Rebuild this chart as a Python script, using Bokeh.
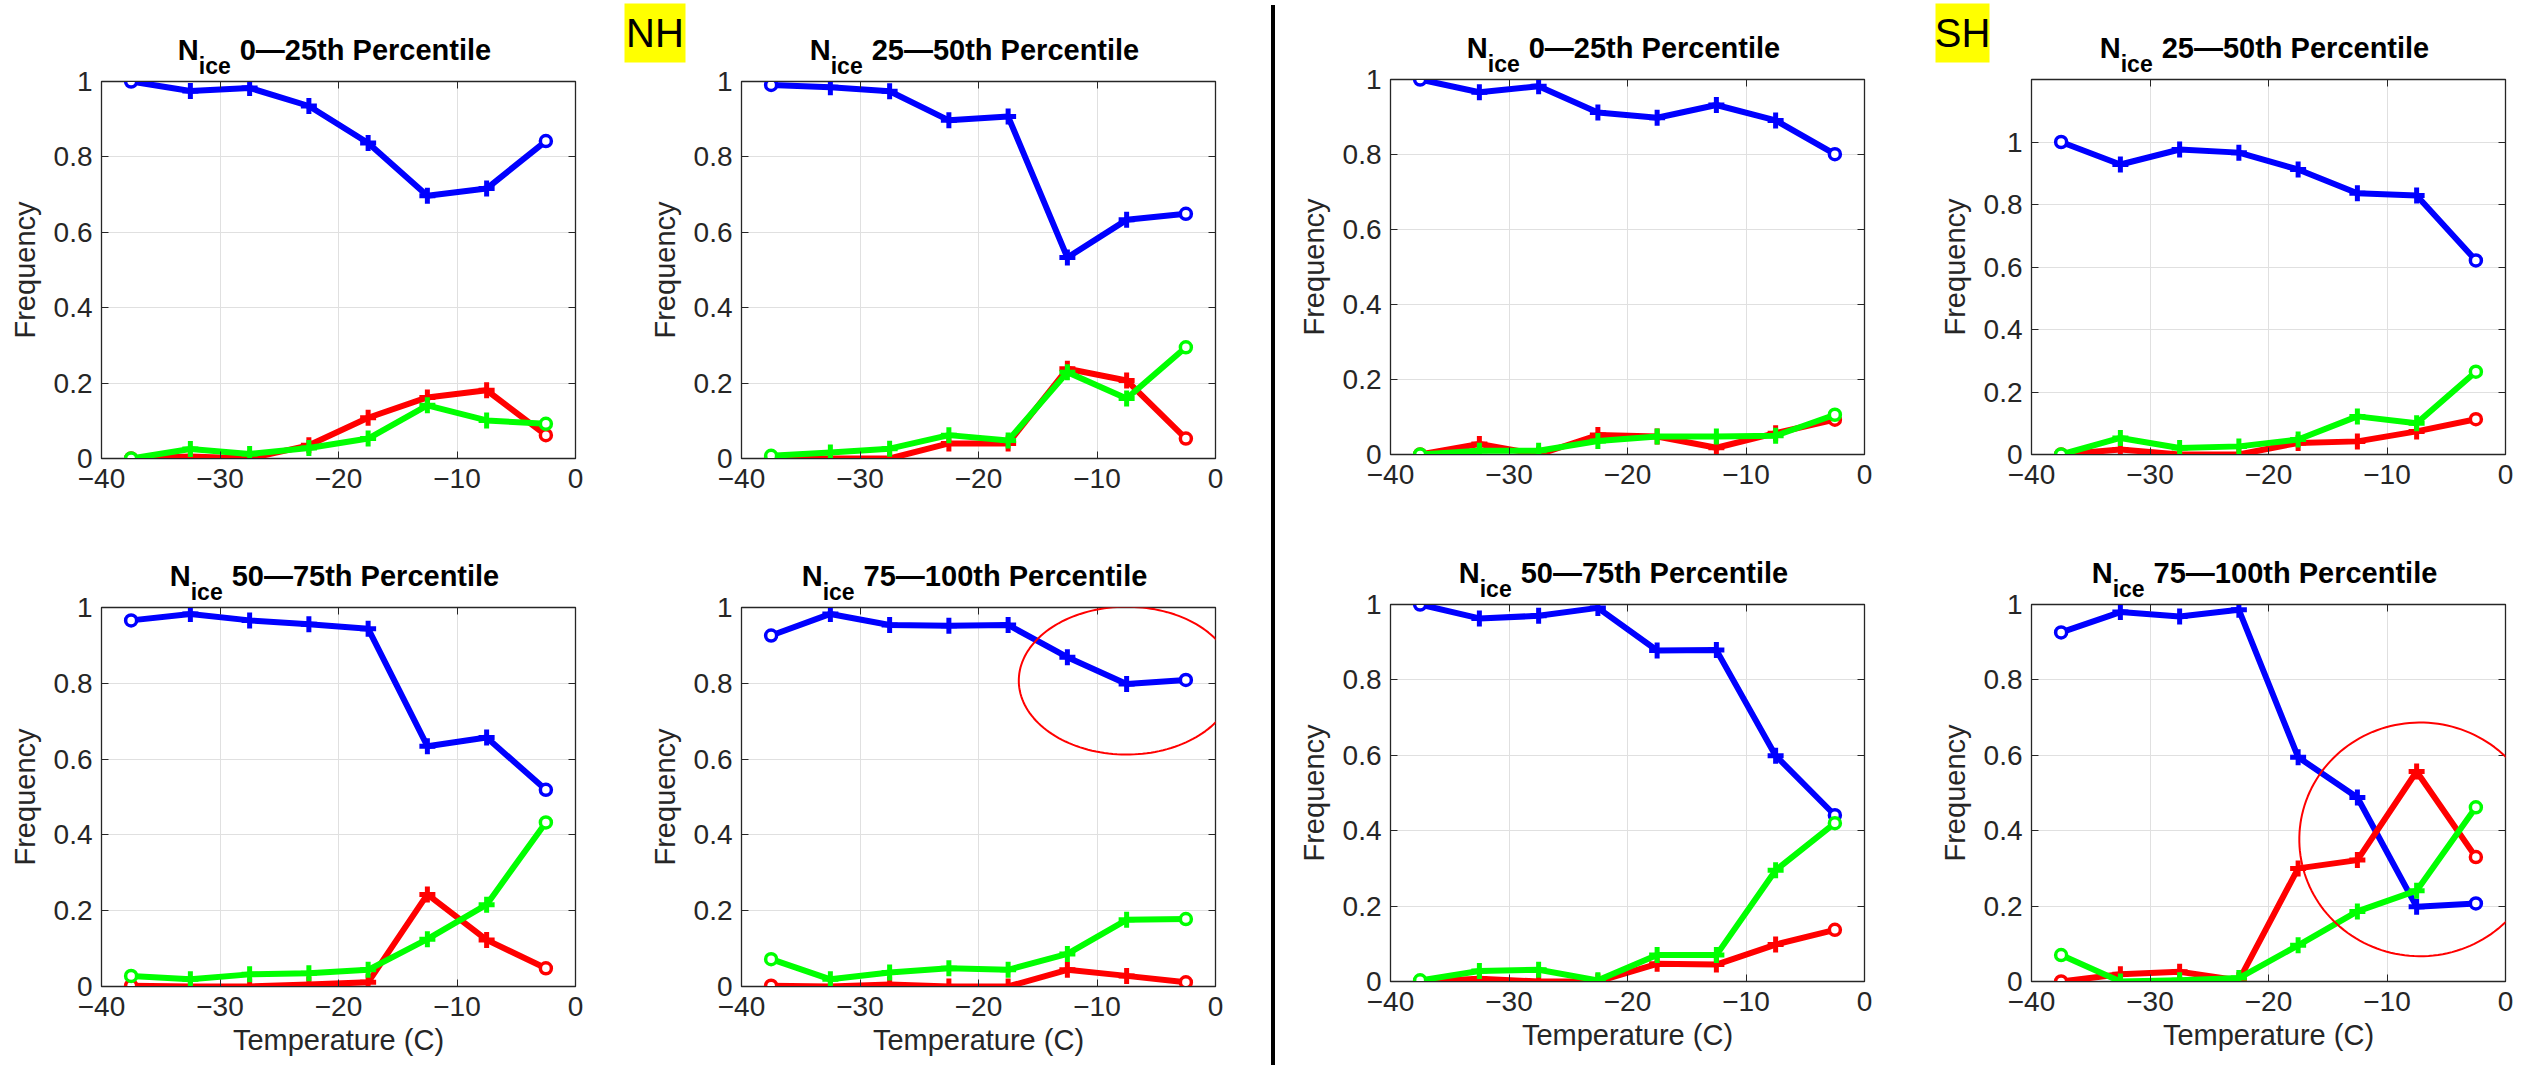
import numpy as np
from bokeh.plotting import figure
from bokeh.models import (Range1d, FixedTicker, NumeralTickFormatter, LinearAxis,
                          Div, PolyAnnotation)
from bokeh.core.properties import value
from bokeh.layouts import row, column
from bokeh.embed import file_html
from bokeh.resources import INLINE

# ---------------- data ----------------
temperature = [-37.5, -32.5, -27.5, -22.5, -17.5, -12.5, -7.5, -2.5]
x_ticks = [-40, -30, -20, -10, 0]
y_ticks = [0, 0.2, 0.4, 0.6, 0.8, 1.0]

nh_p0_25_blue  = [1.0, 0.975, 0.983, 0.935, 0.837, 0.697, 0.716, 0.842]
nh_p0_25_red   = [0.0, 0.005, 0.0, 0.035, 0.108, 0.162, 0.181, 0.062]
nh_p0_25_green = [0.0, 0.025, 0.012, 0.028, 0.053, 0.141, 0.101, 0.092]

nh_p25_50_blue  = [0.991, 0.985, 0.974, 0.897, 0.907, 0.533, 0.633, 0.649]
nh_p25_50_red   = [0.002, 0.0, 0.0, 0.040, 0.040, 0.238, 0.207, 0.053]
nh_p25_50_green = [0.007, 0.016, 0.026, 0.062, 0.048, 0.229, 0.159, 0.295]

nh_p50_75_blue  = [0.966, 0.983, 0.966, 0.956, 0.944, 0.634, 0.657, 0.519]
nh_p50_75_red   = [0.002, 0.0, 0.0, 0.005, 0.011, 0.243, 0.123, 0.048]
nh_p50_75_green = [0.028, 0.019, 0.032, 0.035, 0.044, 0.125, 0.216, 0.433]

nh_p75_100_blue  = [0.926, 0.983, 0.954, 0.952, 0.954, 0.869, 0.798, 0.809]
nh_p75_100_red   = [0.002, 0.0, 0.005, 0.0, 0.0, 0.044, 0.028, 0.011]
nh_p75_100_green = [0.072, 0.019, 0.037, 0.048, 0.044, 0.086, 0.176, 0.178]

sh_p0_25_blue  = [1.0, 0.966, 0.982, 0.912, 0.898, 0.932, 0.891, 0.801]
sh_p0_25_red   = [0.0, 0.028, 0.0, 0.052, 0.048, 0.018, 0.057, 0.093]
sh_p0_25_green = [0.0, 0.010, 0.010, 0.036, 0.048, 0.048, 0.050, 0.106]

sh_p25_50_blue  = [1.0, 0.928, 0.976, 0.966, 0.912, 0.836, 0.829, 0.621]
sh_p25_50_red   = [0.0, 0.016, 0.0, 0.0, 0.037, 0.042, 0.074, 0.113]
sh_p25_50_green = [0.0, 0.053, 0.021, 0.026, 0.048, 0.122, 0.100, 0.265]

sh_p50_75_blue  = [1.0, 0.963, 0.970, 0.991, 0.878, 0.879, 0.599, 0.441]
sh_p50_75_red   = [0.0, 0.007, 0.0, 0.0, 0.047, 0.045, 0.098, 0.137]
sh_p50_75_green = [0.003, 0.028, 0.031, 0.003, 0.070, 0.070, 0.295, 0.420]

sh_p75_100_blue  = [0.926, 0.980, 0.968, 0.986, 0.595, 0.488, 0.198, 0.207]
sh_p75_100_red   = [0.0, 0.019, 0.026, 0.003, 0.300, 0.322, 0.557, 0.330]
sh_p75_100_green = [0.070, 0.0, 0.003, 0.009, 0.096, 0.186, 0.241, 0.462]

# ---------------- styling ----------------
AX = "#262626"
FONT = "Liberation Sans"
BLUE, RED, GREEN = "#0000ff", "#ff0000", "#00ff00"
TOP = 16   # panel border above the frame (room for the "1" tick label)
OV = 14    # the title strip reaches this far down into the panel's (transparent) top border


def box_axis(ticks):
    return LinearAxis(ticker=FixedTicker(ticks=ticks), major_label_text_font_size="1px",
                      major_label_text_color=None, major_tick_in=7, major_tick_out=0,
                      minor_tick_line_color=None, axis_line_color=AX,
                      major_tick_line_color=AX, major_label_standoff=0)


def make_panel(blue, red, green, w, h, bl, br, bb, ymax=1.0, xlabel=None):
    p = figure(width=w, height=h, x_range=Range1d(-40, 0), y_range=Range1d(0, ymax),
               output_backend="svg", toolbar_location=None, frame_align=False,
               min_border_left=bl, min_border_right=br, min_border_top=TOP, min_border_bottom=bb,
               background_fill_color="white", border_fill_alpha=0)
    p.outline_line_color = AX
    p.outline_line_width = 1.3

    xa = p.xaxis[0]
    ya = p.yaxis[0]
    xa.ticker = FixedTicker(ticks=x_ticks)
    ya.ticker = FixedTicker(ticks=y_ticks)
    ya.formatter = NumeralTickFormatter(format="0.[0]")
    for a in (xa, ya):
        a.major_tick_in = 7
        a.major_tick_out = 0
        a.minor_tick_line_color = None
        a.axis_line_color = AX
        a.major_tick_line_color = AX
        a.major_label_text_font = FONT
        a.major_label_text_font_size = "28px"
        a.major_label_text_color = AX
        a.axis_label_text_font = FONT
        a.axis_label_text_font_size = "29px"
        a.axis_label_text_font_style = "normal"
        a.axis_label_text_color = AX
    xa.major_label_standoff = 10
    ya.major_label_standoff = 9
    ya.axis_label = "Frequency"
    ya.axis_label_standoff = 10
    if xlabel:
        xa.axis_label = xlabel
        xa.axis_label_standoff = 5

    p.add_layout(box_axis(y_ticks), "right")
    p.add_layout(box_axis(x_ticks), "above")

    p.xgrid.ticker = FixedTicker(ticks=x_ticks)
    p.ygrid.ticker = FixedTicker(ticks=y_ticks)
    p.xgrid.grid_line_color = "#e0e0e0"
    p.ygrid.grid_line_color = "#e0e0e0"

    for vals, c in ((blue, BLUE), (red, RED), (green, GREEN)):
        p.line(temperature, vals, line_color=c, line_width=6, line_join="round")
        p.scatter(temperature[1:-1], vals[1:-1], marker="cross", size=16,
                  line_width=5, line_color=c)
        p.scatter([temperature[0], temperature[-1]], [vals[0], vals[-1]], marker="circle",
                  size=11, line_width=3.5, line_color=c, fill_color="white")
    return p


def make_strip(w, h, bl, br, rest, em):
    """Title strip above a panel: N_ice  <rest>, centred over the panel frame."""
    s = figure(width=w, height=h, x_range=Range1d(0, w), y_range=Range1d(0, h),
               x_axis_type=None, y_axis_type=None, output_backend="svg",
               toolbar_location=None, frame_align=False,
               min_border_left=0, min_border_right=0, min_border_top=0, min_border_bottom=0,
               outline_line_color=None, margin=(0, 0, -OV, 0),
               background_fill_color="white", border_fill_color="white")
    fw = w - bl - br
    ts, ss = 29, 23
    wN = 0.722 * ts
    wsub = 1.39 * ss
    gap = 9
    total = wN + wsub + gap + em * ts
    x0 = bl + fw / 2 - 4 - total / 2
    bottom_gap = TOP - OV            # strip bottom sits this far above the frame top
    y_main = 23 - bottom_gap + 0.3 * ts   # baseline 23 px above the frame
    y_sub = 9 - bottom_gap + 0.3 * ss     # subscript baseline 9 px above the frame
    common = dict(text_font=value(FONT), text_font_style="bold", text_color="black",
                  text_baseline="alphabetic", text_align="left")
    s.text(x=[x0], y=[y_main], text=["N"], text_font_size=f"{ts}px", **common)
    s.text(x=[x0 + wN], y=[y_sub], text=["ice"], text_font_size=f"{ss}px", **common)
    s.text(x=[x0 + wN + wsub + gap], y=[y_main], text=[rest], text_font_size=f"{ts}px", **common)
    return s


def hemi_label(s, text, cx, cy, bw, bh):
    s.rect(x=[cx], y=[cy], width=[bw], height=[bh], fill_color="#ffff00", line_color=None)
    s.text(x=[cx], y=[cy], text=[text], text_font=value(FONT), text_font_size="40px",
           text_color="black", text_align="center", text_baseline="middle")


def ellipse(p, cx, cy, rx, ry):
    t = np.linspace(0, 2 * np.pi, 160)
    p.add_layout(PolyAnnotation(xs=list(cx + rx * np.cos(t)), ys=list(cy + ry * np.sin(t)),
                                fill_color=None, line_color=RED, line_alpha=1.0, line_width=2))


EM_0_25, EM_25_50, EM_50_75, EM_75_100 = 8.67, 9.226, 9.226, 9.782
TEMP = "Temperature (C)"
T0_25, T25_50 = "0\u201425th Percentile", "25\u201450th Percentile"
T50_75, T75_100 = "50\u201475th Percentile", "75\u2014100th Percentile"


def strip_h(bt):
    return bt - TOP + OV


# left half (NH)
s1 = make_strip(620, strip_h(81), 101, 45, T0_25, EM_0_25)
f1 = make_panel(nh_p0_25_blue, nh_p0_25_red, nh_p0_25_green, 620, 530 - 81 + TOP, 101, 45, 72)
s2 = make_strip(651, strip_h(81), 121, 56, T25_50, EM_25_50)
f2 = make_panel(nh_p25_50_blue, nh_p25_50_red, nh_p25_50_green, 651, 530 - 81 + TOP, 121, 56, 72)
s5 = make_strip(620, strip_h(77), 101, 45, T50_75, EM_50_75)
f5 = make_panel(nh_p50_75_blue, nh_p50_75_red, nh_p50_75_green, 620, 539 - 77 + TOP, 101, 45, 83,
                xlabel=TEMP)
s6 = make_strip(651, strip_h(77), 121, 56, T75_100, EM_75_100)
f6 = make_panel(nh_p75_100_blue, nh_p75_100_red, nh_p75_100_green, 651, 539 - 77 + TOP, 121, 56, 83,
                xlabel=TEMP)

# right half (SH)
s3 = make_strip(655, strip_h(79), 115, 66, T0_25, EM_0_25)
f3 = make_panel(sh_p0_25_blue, sh_p0_25_red, sh_p0_25_green, 655, 526 - 79 + TOP, 115, 66, 72)
s4 = make_strip(609, strip_h(79), 101, 34, T25_50, EM_25_50)
f4 = make_panel(sh_p25_50_blue, sh_p25_50_red, sh_p25_50_green, 609, 526 - 79 + TOP, 101, 34, 72,
                ymax=1.2)
s7 = make_strip(655, strip_h(78), 115, 66, T50_75, EM_50_75)
f7 = make_panel(sh_p50_75_blue, sh_p50_75_red, sh_p50_75_green, 655, 543 - 78 + TOP, 115, 66, 88,
                xlabel=TEMP)
s8 = make_strip(609, strip_h(78), 101, 34, T75_100, EM_75_100)
f8 = make_panel(sh_p75_100_blue, sh_p75_100_red, sh_p75_100_green, 609, 543 - 78 + TOP, 101, 34, 88,
                xlabel=TEMP)

hemi_label(s2, "NH", 34.5, strip_h(81) - 32.5, 61, 59)
hemi_label(s4, "SH", 32, strip_h(79) - 32.5, 54, 59)

ellipse(f6, -7.5, 0.807, 9.1, 0.195)
ellipse(f8, -7.2, 0.377, 10.2, 0.31)

divider = Div(text="", width=4, height=1060, margin=(5, 0, 0, 0),
              styles={"background-color": "black"})

left = column(row(column(s1, f1), column(s2, f2)), row(column(s5, f5), column(s6, f6)))
right = column(row(column(s3, f3), column(s4, f4)), row(column(s7, f7), column(s8, f8)))
layout = row(left, divider, right)

open("out.html", "w").write(file_html(layout, INLINE))
